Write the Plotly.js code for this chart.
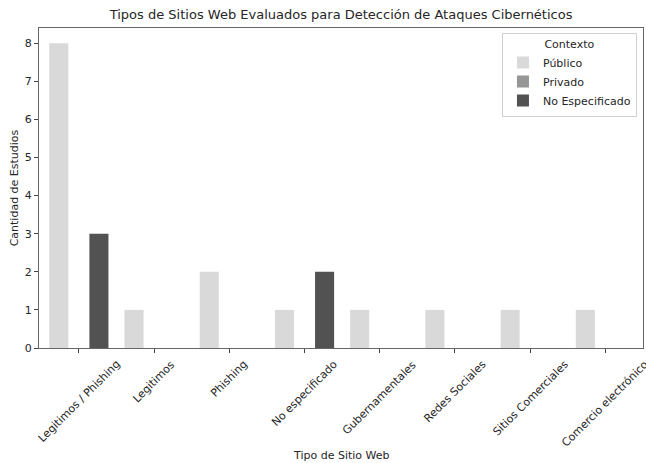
<!DOCTYPE html>
<html>
<head>
<meta charset="utf-8">
<script src="https://cdn.plot.ly/plotly-3.0.1.min.js"></script>
<style>html,body{margin:0;padding:0;background:#fff;}#chart{width:646px;height:463px;}</style>
</head>
<body>
<div id="chart"></div>
<script>
const categories = ["Legitimos / Phishing", "Legitimos", "Phishing", "No especificado", "Gubernamentales", "Redes Sociales", "Sitios Comerciales", "Comercio electrónico"];
const publico = [8, 1, 2, 1, 1, 1, 1, 1];
const privado = [0, 0, 0, 0, 0, 0, 0, 0];
const noEspecificado = [3, 0, 0, 2, 0, 0, 0, 0];
const seriesNames = ["Público", "Privado", "No Especificado"];
const seriesColors = ["#d9d9d9", "#969696", "#525252"];

const FONT = "DejaVu Sans, sans-serif";
const TXT = "#262626";
const seriesVals = [publico, privado, noEspecificado];
const traces = seriesVals.map((v, i) => ({
  type: "bar",
  name: seriesNames[i],
  x: categories,
  y: v,
  marker: {color: seriesColors[i], line: {width: 0}},
  hoverinfo: "x+y+name"
}));

const annotations = categories.map(c => ({
  x: c, xref: "x", y: 0, yref: "paper",
  text: c, showarrow: false, textangle: -45,
  xanchor: "center", yanchor: "top", yshift: -7,
  font: {family: FONT, size: 11, color: TXT}
}));
annotations.push({
  x: 0.5, xref: "paper", y: 0, yref: "paper", yshift: -99,
  text: "Tipo de Sitio Web", showarrow: false, xanchor: "center", yanchor: "top",
  font: {family: FONT, size: 11, color: TXT}
});

const layout = {
  width: 646, height: 463,
  margin: {l: 39, r: 3, t: 28, b: 115},
  paper_bgcolor: "#fff", plot_bgcolor: "#fff",
  font: {family: FONT, size: 11, color: TXT},
  title: {text: "Tipos de Sitios Web Evaluados para Detección de Ataques Cibernéticos",
          x: 0.528, xanchor: "center", y: 0.979, yanchor: "top",
          font: {family: FONT, size: 13, color: TXT}},
  barmode: "group", bargap: 0.2, bargroupgap: 0.05,
  xaxis: {
    type: "category", range: [-0.53, 7.5], showticklabels: false,
    ticks: "outside", ticklen: 4, tickcolor: "#444",
    showline: true, linecolor: "#666", linewidth: 1, mirror: true,
    showgrid: false, zeroline: false
  },
  yaxis: {
    range: [0, 8.4], dtick: 1, ticks: "outside", ticklen: 4, tickcolor: "#444",
    showline: true, linecolor: "#666", linewidth: 1, mirror: true,
    showgrid: false, zeroline: false,
    tickfont: {family: FONT, size: 11, color: TXT},
    title: {text: "Cantidad de Estudios", standoff: 3, font: {family: FONT, size: 11, color: TXT}}
  },
  legend: {
    x: 0.99, xanchor: "right", y: 0.985, yanchor: "top",
    bgcolor: "rgba(255,255,255,0.8)", bordercolor: "#d0d0d0", borderwidth: 1,
    title: {text: "Contexto", side: "top center", font: {family: FONT, size: 11, color: TXT}},
    font: {family: FONT, size: 11, color: TXT},
    tracegroupgap: 0, itemwidth: 30
  },
  annotations: annotations,
  showlegend: true
};

Plotly.newPlot("chart", traces, layout, {displayModeBar: false, staticPlot: true});
</script>
</body>
</html>
